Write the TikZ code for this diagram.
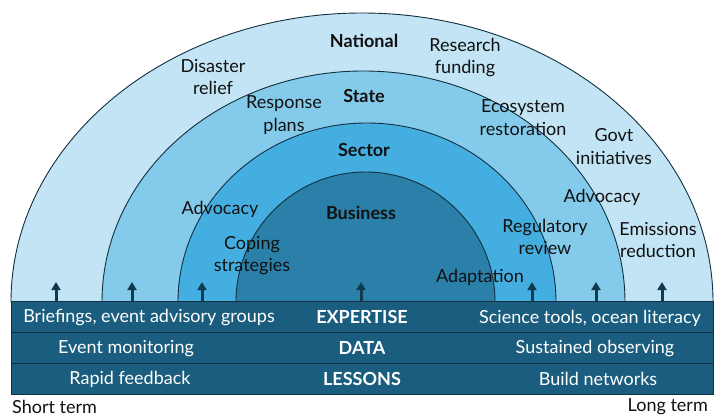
\documentclass[tikz,border=0pt]{standalone}
\usepackage{fontspec}
\setmainfont{Lato}
\usepackage{xcolor}
\usetikzlibrary{positioning}
\usetikzlibrary{arrows.meta}

\definecolor{natfill}{HTML}{C2E4F5}
\definecolor{statefill}{HTML}{84CAEB}
\definecolor{secfill}{HTML}{45AEE0}
\definecolor{busfill}{HTML}{2A80A8}
\definecolor{barfill}{HTML}{1B5D7E}
\definecolor{ringline}{HTML}{12303F}
\definecolor{arr}{HTML}{0F3A50}
\definecolor{txt}{HTML}{111111}

\begin{document}
\begin{tikzpicture}[x=1pt,y=-1pt]
\tikzset{
  ring/.style={draw=ringline, line width=0.9pt},
  lbl/.style={align=center, text=txt, inner sep=0pt, font=\fontsize{18}{22.5}\selectfont},
  hd/.style={lbl, font=\fontsize{18}{22.5}\selectfont\bfseries},
  bar/.style={draw=ringline, fill=barfill, line width=1pt, minimum width=702, minimum height=30.7, inner sep=0pt},
  bt/.style={text=white, inner sep=0pt, font=\fontsize{18}{22}\selectfont},
  bh/.style={bt, font=\fontsize{18}{22}\selectfont\bfseries},
  up/.style={-{Triangle[width=9pt,length=8pt]}, line width=3pt, draw=arr},
}

\useasboundingbox (0,0) rectangle (720,417);

% rings
\filldraw[ring, fill=natfill] (11,302) arc[start angle=180, end angle=360, x radius=351, y radius=289] -- cycle;
\filldraw[ring, fill=statefill] (102,302) arc[start angle=180, end angle=360, x radius=261.5, y radius=231] -- cycle;
\filldraw[ring, fill=secfill] (178,302) arc[start angle=180, end angle=360, x radius=189, y radius=179] -- cycle;
\filldraw[ring, fill=busfill] (236,302) arc[start angle=180, end angle=360, x radius=129.5, y radius=130] -- cycle;

% bars
\node[bar] (exp) at (362,317.3) {};
\node[bar] (dat) at (362,348) {};
\node[bar] (les) at (362,378.7) {};

\foreach \x [count=\i] in {56,132,202,361,532,596,662} {
  \coordinate (b\i) at (\x,302);
  \coordinate (t\i) at (\x,282);
  \draw[up] (b\i) -- (t\i);
}

% ring labels
\node[hd] (nat) at (364,41) {National};
\node[lbl] (res) at (465,57.5) {Research\\funding};
\node[lbl] (dis) at (213,77) {Disaster\\relief};
\node[hd] (sta) at (364,96) {State};
\node[lbl] (rsp) at (284,115) {Response\\plans};
\node[lbl] (eco) at (523,117.5) {Ecosystem\\restoration};
\node[hd] (sec) at (364,150) {Sector};
\node[lbl] (gov) at (614,146.5) {Govt\\initiatives};
\node[lbl] (adl) at (220,209) {Advocacy};
\node[hd] (bus) at (361,213) {Business};
\node[lbl] (adr) at (602,197) {Advocacy};
\node[lbl] (cop) at (252,255.5) {Coping\\strategies};
\node[lbl] (reg) at (545,237) {Regulatory\\review};
\node[lbl] (emi) at (658,240) {Emissions\\reduction};
\node[lbl] (ada) at (480,277) {Adaptation};

% bar labels
\node[bt] (e1) at (149,318) {Briefings, event advisory groups};
\node[bh] (e2) at (exp) {EXPERTISE};
\node[bt] (e3) at (590,318) {Science tools, ocean literacy};
\node[bt] (d1) at (126,349) {Event monitoring};
\node[bh] (d2) at (dat) {DATA};
\node[bt] (d3) at (595,349) {Sustained observing};
\node[bt] (l1) at (130,379) {Rapid feedback};
\node[bh] (l2) at (les) {LESSONS};
\node[bt] (l3) at (598,379) {Build networks};

\node[lbl, anchor=west] (st) at (12,406.5) {Short term};
\node[lbl, anchor=east] (lt) at (708,406.5) {Long term};
\end{tikzpicture}
\end{document}
